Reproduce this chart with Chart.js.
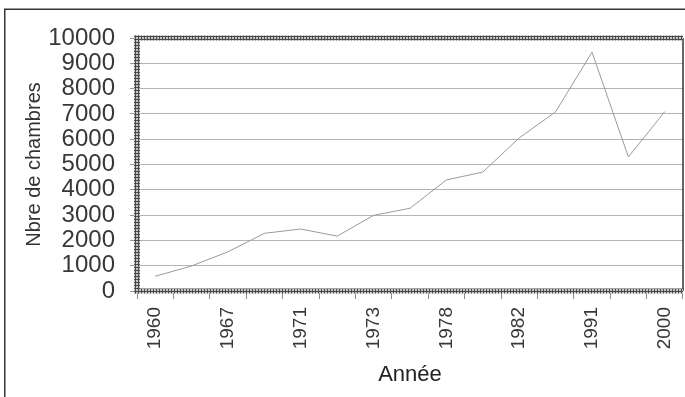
<!DOCTYPE html>
<html>
<head>
<meta charset="utf-8">
<script src="https://cdn.jsdelivr.net/npm/chart.js@4/dist/chart.umd.min.js"></script>
<style>
  html, body { margin: 0; padding: 0; background: #fff; }
  #chart { display: block; }
</style>
</head>
<body>
<canvas id="chart" width="685" height="397"></canvas>
<script>
const years = ['1960', '1964', '1967', '1969', '1971', '1972', '1973', '1975',
               '1978', '1980', '1982', '1986', '1991', '1995', '2000'];
const rooms = [580, 990, 1550, 2280, 2450, 2170, 2990, 3270,
               4390, 4700, 6050, 7080, 9440, 5300, 7090];
const yTicks = [0, 1000, 2000, 3000, 4000, 5000, 6000, 7000, 8000, 9000, 10000];

// small tile used for the textured axis borders
function makeHatch(ctx) {
    const tile = document.createElement('canvas');
    tile.width = 3;
    tile.height = 3;
    const t = tile.getContext('2d');
    t.fillStyle = '#4a4a4a';
    t.fillRect(0, 0, 3, 3);
    t.fillStyle = '#c4c4c4';
    t.fillRect(1, 1, 2, 2);
    return ctx.createPattern(tile, 'repeat');
}

const framePlugin = {
    id: 'frame',
    afterDraw(chart) {
        const { ctx, chartArea: a } = chart;
        ctx.save();

        // title sitting above the page edge, only its foot shows
        ctx.font = '22px "Liberation Sans", Arial, sans-serif';
        ctx.fillStyle = '#222';
        ctx.textAlign = 'center';
        ctx.textBaseline = 'alphabetic';
        ctx.fillText('Année', 398, -2);

        // outer frame
        ctx.strokeStyle = '#333';
        ctx.lineWidth = 1.5;
        ctx.beginPath();
        ctx.moveTo(4.75, chart.height + 2);
        ctx.lineTo(4.75, 9.25);
        ctx.lineTo(chart.width + 2, 9.25);
        ctx.stroke();

        // right edge of the plot
        ctx.beginPath();
        ctx.moveTo(a.right, a.top);
        ctx.lineTo(a.right, a.bottom);
        ctx.stroke();

        // textured top, left and bottom borders
        ctx.fillStyle = makeHatch(ctx);
        ctx.fillRect(a.left - 3, a.top - 2.5, a.right - a.left + 3, 5);
        ctx.fillRect(a.left - 3, a.top - 2.5, 6, a.bottom - a.top + 5);
        ctx.fillRect(a.left - 3, a.bottom - 2.5, a.right - a.left + 3, 5);

        ctx.restore();
    }
};

new Chart(document.getElementById('chart'), {
    type: 'line',
    data: {
        labels: years,
        datasets: [{
            label: 'Nbre de chambres',
            data: rooms,
            borderColor: '#9a9a9a',
            borderWidth: 1,
            pointRadius: 0,
            tension: 0,
            fill: false
        }]
    },
    options: {
        responsive: false,
        animation: false,
        devicePixelRatio: 1,
        layout: { padding: { top: 38, right: 2, left: 0, bottom: 0 } },
        plugins: {
            legend: { display: false },
            tooltip: { enabled: false }
        },
        scales: {
            x: {
                offset: true,
                afterFit: scale => {
                    scale.height = 106;
                    scale.paddingLeft = 0;
                    scale.paddingRight = 0;
                },
                border: { display: false },
                grid: {
                    offset: true,
                    drawOnChartArea: false,
                    drawTicks: true,
                    tickLength: 8,
                    tickColor: '#8c8c8c'
                },
                ticks: {
                    autoSkip: false,
                    minRotation: 90,
                    maxRotation: 90,
                    padding: 8,
                    color: '#383838',
                    font: { family: '"Liberation Sans", Arial, sans-serif', size: 19 },
                    callback: (value, i) => (i % 2 === 0 ? years[i] : '')
                },
                title: {
                    display: true,
                    text: 'Année',
                    color: '#222',
                    font: { family: '"Liberation Sans", Arial, sans-serif', size: 22 },
                    padding: { top: 0, bottom: 9 }
                }
            },
            y: {
                min: yTicks[0],
                max: yTicks[yTicks.length - 1],
                afterFit: scale => {
                    scale.width = 137;
                    scale.paddingTop = 0;
                    scale.paddingBottom = 0;
                },
                afterBuildTicks: scale => {
                    scale.ticks = yTicks.map(v => ({ value: v }));
                },
                border: { display: false },
                grid: {
                    color: '#b4b4b4',
                    lineWidth: 1,
                    drawTicks: true,
                    tickLength: 7,
                    tickColor: '#9a9a9a'
                },
                ticks: {
                    autoSkip: false,
                    padding: 15,
                    color: '#383838',
                    font: { family: '"Liberation Sans", Arial, sans-serif', size: 24, lineHeight: 1 },
                    callback: value => String(value)
                },
                title: {
                    display: true,
                    text: 'Nbre de chambres',
                    color: '#333',
                    font: { family: '"Liberation Sans", Arial, sans-serif', size: 20 },
                    padding: { top: 22, bottom: 0 }
                }
            }
        }
    },
    plugins: [framePlugin]
});
</script>
</body>
</html>
